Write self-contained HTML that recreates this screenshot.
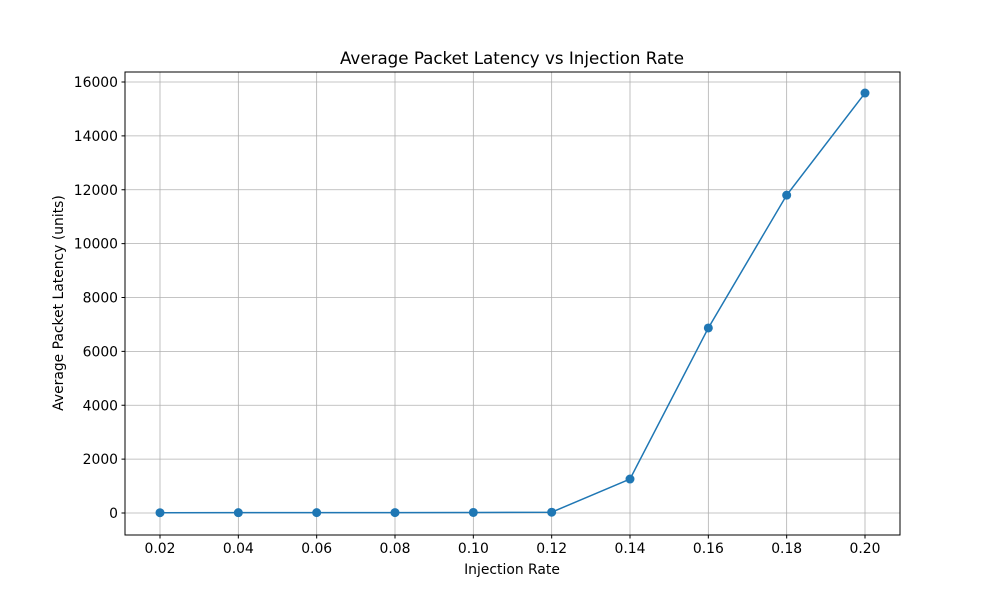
<!DOCTYPE html>
<html><head><meta charset="utf-8"><style>body{margin:0;background:#fff}svg{display:block;font-family:"DejaVu Sans","Liberation Sans",sans-serif}</style></head>
<body>
<svg id="chart" width="1000" height="600">
<rect width="1000" height="600" fill="#fff"/>
<g id="grid"></g>
<g id="ticks"></g>
<g id="series"></g>
<rect x="125" y="72" width="775" height="463" fill="none" stroke="#000" stroke-width="1"/>
<text x="512" y="64" font-size="16.7" text-anchor="middle">Average Packet Latency vs Injection Rate</text>
<text x="512" y="574" font-size="13.9" text-anchor="middle">Injection Rate</text>
<text x="63" y="303" font-size="13.9" text-anchor="middle" transform="rotate(-90 63 303)">Average Packet Latency (units)</text>
</svg>
<script>
const xValues=[0.02,0.04,0.06,0.08,0.10,0.12,0.14,0.16,0.18,0.20];
const latency=[10,12,14,16,20,30,1260,6870,11800,15590];
const xTicks=[0.02,0.04,0.06,0.08,0.10,0.12,0.14,0.16,0.18,0.20];
const yTicks=[0,2000,4000,6000,8000,10000,12000,14000,16000];
const NS='http://www.w3.org/2000/svg';
const xs=v=>160+(v-0.02)/0.18*705;
const ys=v=>513-v/16000*431;
function mk(t,a,p){const e=document.createElementNS(NS,t);for(const k in a)e.setAttribute(k,a[k]);p.appendChild(e);return e;}
const g=document.getElementById('grid'),tk=document.getElementById('ticks'),s=document.getElementById('series');
xTicks.forEach(v=>{const x=xs(v);
const l=mk('line',{x1:x,x2:x,y1:72,y2:535,stroke:'#b0b0b0','stroke-width':0.8},g);

mk('line',{x1:x,x2:x,y1:535,y2:538.5,stroke:'#000'},tk);
const t=mk('text',{x:x,y:553,'font-size':13.9,'text-anchor':'middle'},tk);t.textContent=v.toFixed(2);
});
yTicks.forEach(v=>{const y=ys(v);
const l=mk('line',{x1:125,x2:900,y1:y,y2:y,stroke:'#b0b0b0','stroke-width':0.8},g);

mk('line',{x1:121.5,x2:125,y1:y,y2:y,stroke:'#000'},tk);
const t=mk('text',{x:118,y:y+5,'font-size':13.9,'text-anchor':'end'},tk);t.textContent=v;
});
const pl=mk('polyline',{points:xValues.map((v,i)=>xs(v)+','+ys(latency[i])).join(' '),fill:'none',stroke:'#1f77b4','stroke-width':1.5},s);

xValues.forEach((v,i)=>{const c=mk('circle',{cx:xs(v),cy:ys(latency[i]),r:4.5,fill:'#1f77b4'},s);
});
</script>
</body></html>
